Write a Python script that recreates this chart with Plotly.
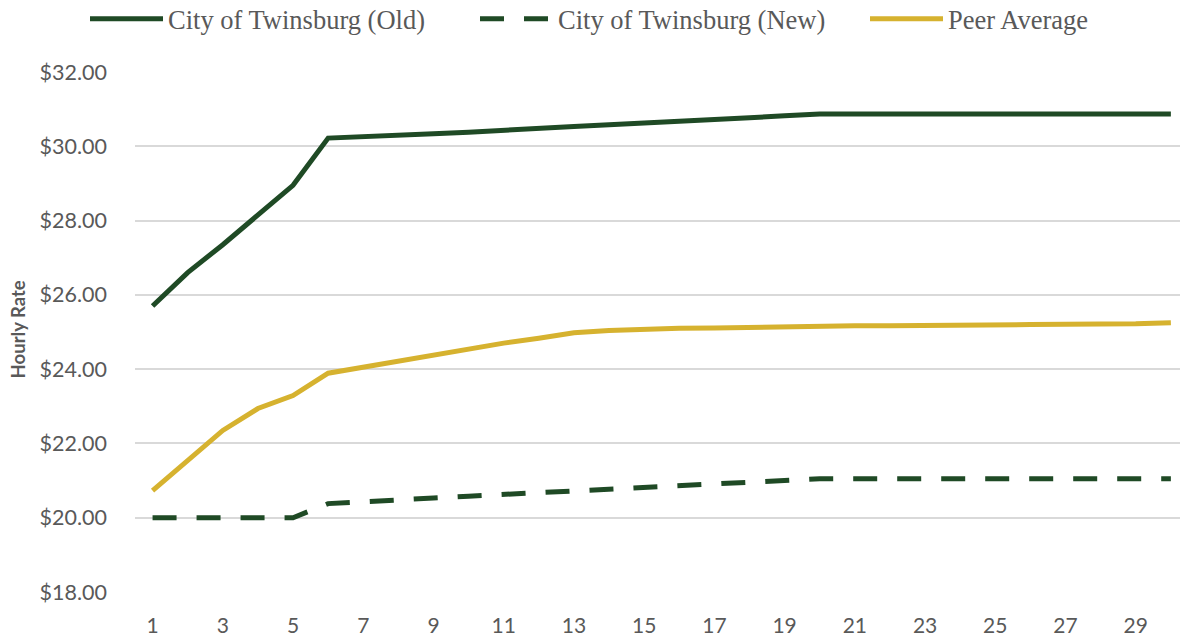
import plotly.graph_objects as go

years = list(range(1, 31))
old_rates = [25.70, 26.60, 27.35, 28.15, 28.95, 30.22, 30.25, 30.29, 30.34, 30.38,
             30.44, 30.48, 30.53, 30.58, 30.62, 30.67, 30.72, 30.77, 30.82, 30.87,
             30.87, 30.87, 30.87, 30.87, 30.87, 30.87, 30.87, 30.87, 30.87, 30.87]
new_rates = [20.00, 20.00, 20.00, 20.00, 20.00, 20.38, 20.42, 20.48, 20.53, 20.58,
             20.63, 20.68, 20.73, 20.78, 20.83, 20.88, 20.92, 20.97, 21.02, 21.05,
             21.05, 21.05, 21.05, 21.05, 21.05, 21.05, 21.05, 21.05, 21.05, 21.05]
peer_rates = [20.73, 21.54, 22.35, 22.94, 23.29, 23.89, 24.05, 24.20, 24.38, 24.55,
              24.70, 24.83, 24.98, 25.04, 25.08, 25.10, 25.11, 25.13, 25.14, 25.16,
              25.17, 25.17, 25.17, 25.18, 25.20, 25.20, 25.21, 25.21, 25.22, 25.25]
y_ticks = [18, 20, 22, 24, 26, 28, 30, 32]
x_ticks = list(range(1, 31, 2))

GREEN = "#1f4a25"
GOLD = "#d6b22f"
GRAY = "#595959"

fig = go.Figure()
fig.add_trace(go.Scatter(x=years, y=old_rates, mode="lines", name="City of Twinsburg (Old)",
                         line=dict(color=GREEN, width=5)))
fig.add_trace(go.Scatter(x=years, y=new_rates, mode="lines", name="City of Twinsburg (New)",
                         line=dict(color=GREEN, width=5, dash="24px,20px")))
fig.add_trace(go.Scatter(x=years, y=peer_rates, mode="lines", name="Peer Average",
                         line=dict(color=GOLD, width=5)))

fig.update_layout(
    width=1180, height=637,
    margin=dict(l=135, r=0, t=72, b=45, autoexpand=False),
    plot_bgcolor="white", paper_bgcolor="white",
    legend=dict(orientation="h", xref="paper", yref="paper",
                x=-50 / 1045, xanchor="left", y=1.102, yanchor="middle",
                font=dict(family="Liberation Serif", size=26.5, color=GRAY),
                itemwidth=73, entrywidth=302, entrywidthmode="pixels"),
    xaxis=dict(range=[0.5, 30.26], tickmode="array", tickvals=x_ticks,
               ticktext=[str(v) for v in x_ticks],
               showgrid=False, zeroline=False, showline=False,
               ticks="", ticklabelstandoff=19,
               tickfont=dict(family="Lato", size=21, color=GRAY)),
    yaxis=dict(range=[18, 32], tickmode="array", tickvals=y_ticks,
               ticktext=["${:.2f}".format(v) for v in y_ticks],
               showgrid=True, gridcolor="#d9d9d9", gridwidth=1.5,
               zeroline=False, showline=False, ticks="", ticklabelstandoff=27,
               tickfont=dict(family="Lato", size=21.5, color=GRAY)),
    showlegend=True,
)
fig.add_annotation(text="<b>Hourly Rate</b>", xref="paper", yref="paper",
                   x=0, y=0.505, xshift=-117, xanchor="center", yanchor="middle",
                   textangle=-90, showarrow=False,
                   font=dict(family="Lato", size=18.5, color=GRAY))

fig.write_html("out.html", config={"displayModeBar": False},
               post_script="document.body.style.margin='0px';document.body.style.overflow='hidden';")
